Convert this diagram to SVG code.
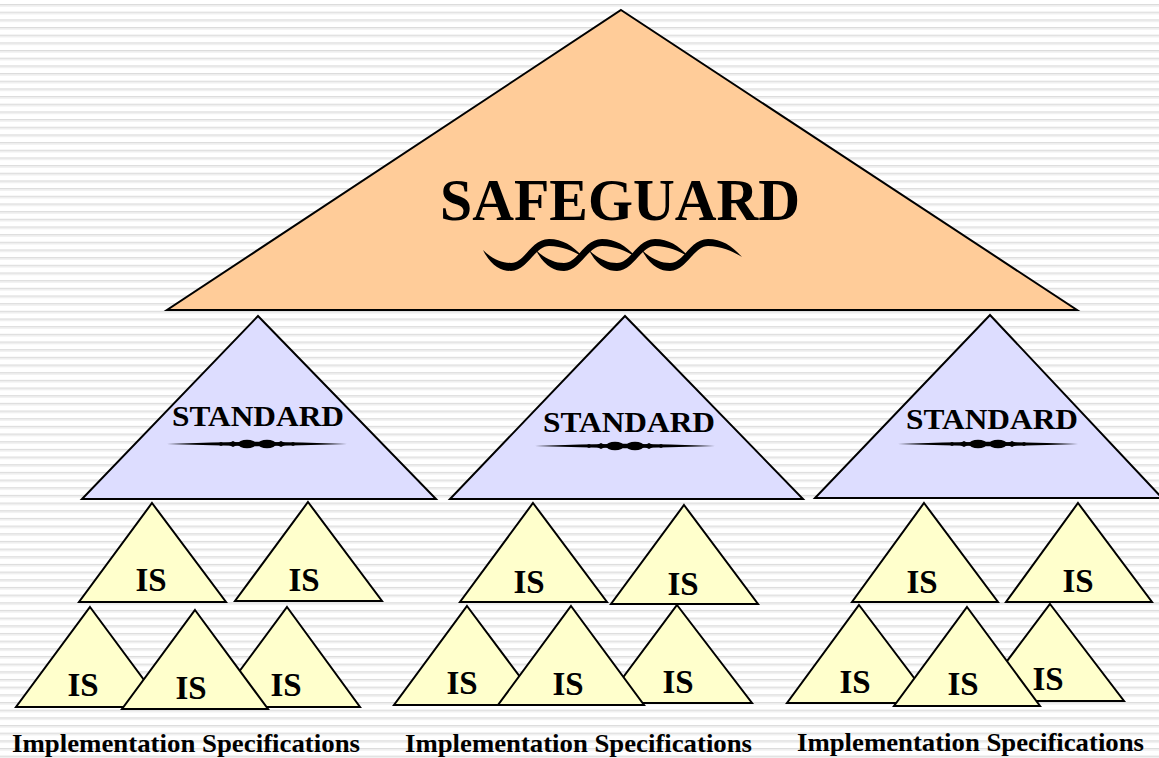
<svg xmlns="http://www.w3.org/2000/svg" width="1159" height="758" viewBox="0 0 1159 758">
<defs>
<pattern id="stripes" x="0" y="4" width="1159" height="7.67" patternUnits="userSpaceOnUse">
<rect x="0" y="0" width="1159" height="7.67" fill="#ffffff"/>
<rect x="0" y="0" width="1159" height="1.4" fill="#dcdcdc"/>
<rect x="0" y="1.4" width="1159" height="1.2" fill="#eeeeee"/>
</pattern>
<g id="orn">
<path d="M-90,0 Q-45,-1.6 0,-2.2 Q45,-1.6 90,0 Q45,1.6 0,2.2 Q-45,1.6 -90,0 Z" fill="#000"/>
<ellipse cx="-10" cy="0" rx="9" ry="4.2" fill="#000"/>
<ellipse cx="10" cy="0" rx="9" ry="4.2" fill="#000"/>
<path d="M-30,0 L-24,-3 L-18,0 L-24,3 Z M30,0 L24,-3 L18,0 L24,3 Z" fill="#000"/>
<path d="M-40,0 L-36,-2 L-32,0 L-36,2 Z M40,0 L36,-2 L32,0 L36,2 Z" fill="#000"/>
</g>
<path id="wave" d="M-24,250 C-16,266 -6,271 4,271 C20,271 28,246 42,246 C56,246 68,252 76,257 C66,246 56,239 42,239 C24,239 18,263 4,263 C-6,263 -16,258 -24,250 Z" fill="#000"/>
</defs>
<style>
.tri{stroke:#000;stroke-width:2;stroke-linejoin:miter}
.sg{fill:#FFCC99}
.st{fill:#DDDDFF}
.is{fill:#FFFFCC}
.t{font-weight:bold;fill:#000;text-anchor:middle}
.ist{font-size:33px}
.stt{font-size:29px}
.lab{font-weight:bold;font-size:26px;fill:#000}
</style>
<rect x="0" y="0" width="1159" height="758" fill="url(#stripes)"/>

<g id="safeguard">
<polygon class="tri sg" points="621,10 1077,310 167,310"/>
<text class="t" x="620" y="220" font-family="Liberation Serif, DejaVu Serif, serif" font-size="60" textLength="360" lengthAdjust="spacingAndGlyphs">SAFEGUARD</text>
<use href="#wave" x="507" y="0"/>
<use href="#wave" x="560" y="0"/>
<use href="#wave" x="613" y="0"/>
<use href="#wave" x="666" y="0"/>
</g>

<g font-family="Liberation Serif, DejaVu Serif, serif">
<g id="standard1">
<polygon class="tri st" points="258,316 436,499 82,499"/>
<text class="t stt" x="258" y="426" textLength="172" lengthAdjust="spacingAndGlyphs">STANDARD</text>
<use href="#orn" x="257" y="444"/>
</g>
<g id="standard2">
<polygon class="tri st" points="625,316 803,499 450,499"/>
<text class="t stt" x="629" y="432" textLength="172" lengthAdjust="spacingAndGlyphs">STANDARD</text>
<use href="#orn" x="625" y="446"/>
</g>
<g id="standard3">
<polygon class="tri st" points="990,315 1162,498 815,498"/>
<text class="t stt" x="992" y="429" textLength="172" lengthAdjust="spacingAndGlyphs">STANDARD</text>
<use href="#orn" x="988" y="444"/>
</g>

<g id="is1-tl"><polygon class="tri is" points="152,503 226,602 79,602"/><text class="t ist" x="151" y="591">IS</text></g>
<g id="is1-tr"><polygon class="tri is" points="308,502 382,601 235,601"/><text class="t ist" x="304" y="591">IS</text></g>
<g id="is1-bl"><polygon class="tri is" points="90,607 164,707 16,707"/><text class="t ist" x="83" y="696">IS</text></g>
<g id="is1-br"><polygon class="tri is" points="287,607 360,707 213,707"/><text class="t ist" x="286" y="696">IS</text></g>
<g id="is1-bm"><polygon class="tri is" points="195,610 268,709 122,709"/><text class="t ist" x="191" y="699">IS</text></g>

<g id="is2-tl"><polygon class="tri is" points="533,503 607,602 460,602"/><text class="t ist" x="529" y="593">IS</text></g>
<g id="is2-tr"><polygon class="tri is" points="684,505 758,604 611,604"/><text class="t ist" x="683" y="595">IS</text></g>
<g id="is2-bl"><polygon class="tri is" points="467,606 541,705 394,705"/><text class="t ist" x="462" y="694">IS</text></g>
<g id="is2-br"><polygon class="tri is" points="677,605 752,703 604,703"/><text class="t ist" x="678" y="693">IS</text></g>
<g id="is2-bm"><polygon class="tri is" points="571,606 644,705 498,705"/><text class="t ist" x="568" y="695">IS</text></g>

<g id="is3-tl"><polygon class="tri is" points="924,503 998,602 852,602"/><text class="t ist" x="922" y="593">IS</text></g>
<g id="is3-tr"><polygon class="tri is" points="1078,503 1152,602 1006,602"/><text class="t ist" x="1078" y="592">IS</text></g>
<g id="is3-bl"><polygon class="tri is" points="859,605 933,703 787,703"/><text class="t ist" x="855" y="693">IS</text></g>
<g id="is3-br"><polygon class="tri is" points="1050,604 1124,701 977,701"/><text class="t ist" x="1048" y="690">IS</text></g>
<g id="is3-bm"><polygon class="tri is" points="967,607 1040,706 894,706"/><text class="t ist" x="963" y="695">IS</text></g>

<g id="labels">
<text class="lab" x="12" y="752" textLength="348" lengthAdjust="spacingAndGlyphs">Implementation Specifications</text>
<text class="lab" x="405" y="752" textLength="347" lengthAdjust="spacingAndGlyphs">Implementation Specifications</text>
<text class="lab" x="797" y="751" textLength="347" lengthAdjust="spacingAndGlyphs">Implementation Specifications</text>
</g>
</g>
<g id="connectors"/>
</svg>
